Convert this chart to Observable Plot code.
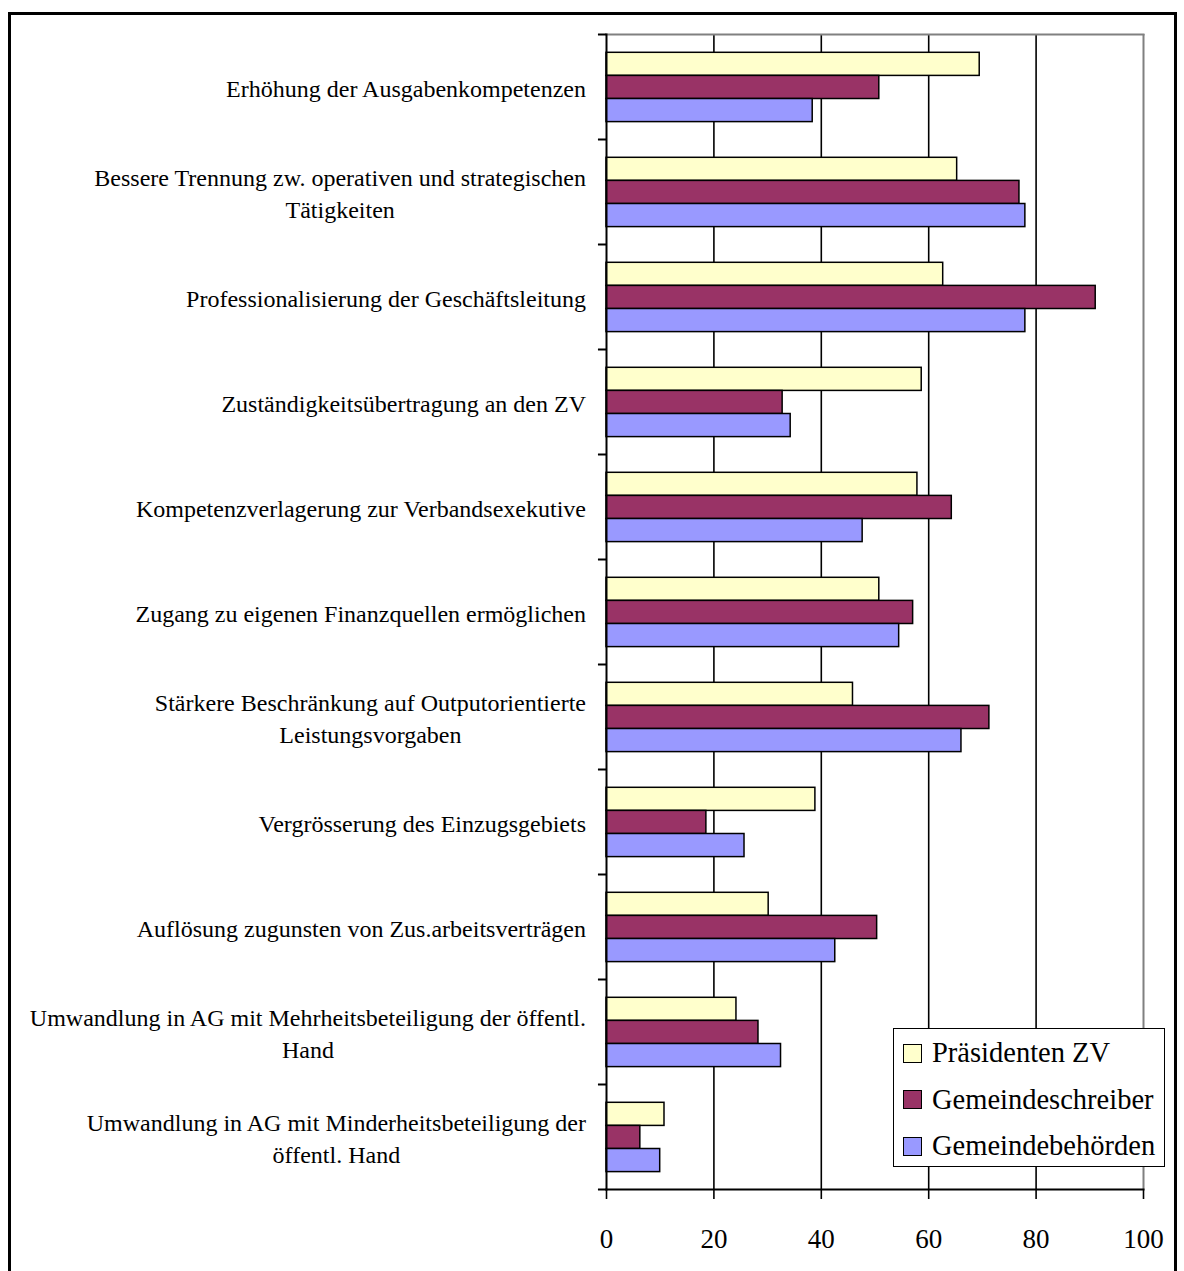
<!DOCTYPE html>
<html>
<head>
<meta charset="utf-8">
<script src="https://cdn.jsdelivr.net/npm/d3@7"></script>
<script src="https://cdn.jsdelivr.net/npm/@observablehq/plot@0.6"></script>
<style>
  html, body { margin: 0; padding: 0; background: #fff; overflow: hidden; }
  #wrap { position: relative; width: 1184px; height: 1271px; }
  #border { position: absolute; left: 8px; top: 12px; width: 1169px; height: 1300px; border: 3px solid #000; box-sizing: border-box; }
  #chart { position: absolute; left: 0; top: 0; }
  #legend { position: absolute; left: 893px; top: 1028px; width: 272px; height: 139px; box-sizing: border-box;
            border: 1.5px solid #000; background: #fff; padding: 1px 0 0 9px;
            font-family: "Liberation Serif", "Times New Roman", serif; font-size: 28.5px; color: #000; }
  .row { height: 46.5px; display: flex; align-items: center; }
  .sw { width: 19px; height: 19px; box-sizing: border-box; border: 1.5px solid #000; margin-right: 10px; flex: none; }
</style>
</head>
<body>
<div id="wrap">
  <div id="border"></div>
  <div id="chart"></div>
  <div id="legend"></div>
</div>
<script>
const categories = [
  "Erhöhung der Ausgabenkompetenzen",
  "Bessere Trennung zw. operativen und strategischen\nTätigkeiten",
  "Professionalisierung der Geschäftsleitung",
  "Zuständigkeitsübertragung an den ZV",
  "Kompetenzverlagerung zur Verbandsexekutive",
  "Zugang zu eigenen Finanzquellen ermöglichen",
  "Stärkere Beschränkung auf Outputorientierte\nLeistungsvorgaben",
  "Vergrösserung des Einzugsgebiets",
  "Auflösung zugunsten von Zus.arbeitsverträgen",
  "Umwandlung in AG mit Mehrheitsbeteiligung der öffentl.\nHand",
  "Umwandlung in AG mit Minderheitsbeteiligung der\nöffentl. Hand"
];
const seriesNames = ["Präsidenten ZV", "Gemeindeschreiber", "Gemeindebehörden"];
const praesidenten = [69.5, 65.3, 62.7, 58.7, 57.9, 50.8, 45.9, 38.9, 30.2, 24.2, 10.8];
const gemeindeschreiber = [50.8, 76.9, 91.1, 32.8, 64.3, 57.1, 71.3, 18.6, 50.4, 28.3, 6.3];
const gemeindebehoerden = [38.4, 78.0, 78.0, 34.3, 47.7, 54.5, 66.1, 25.7, 42.6, 32.5, 10.0];
const xTicks = [0, 20, 40, 60, 80, 100];
const colors = ["#FFFFCC", "#993366", "#9999FF"];

const seriesValues = [praesidenten, gemeindeschreiber, gemeindebehoerden];
const rows = seriesValues.map((vals, s) =>
  categories.map((c, i) => ({category: c, series: seriesNames[s], value: vals[i]})));

const W = 1184, H = 1271;
const mTop = 34, mBottom = 82, mLeft = 606, mRight = 41;
const bw = (H - mTop - mBottom) / categories.length;
const g0 = 18.3, bh = 23.1;

const bars = rows.map((data, s) => Plot.barX(data, {
  x: "value", y: "category",
  fill: colors[s], stroke: "#000", strokeWidth: 1.5,
  insetTop: g0 + s * bh,
  insetBottom: bw - g0 - (s + 1) * bh
}));

const chart = Plot.plot({
  width: W, height: H,
  marginTop: mTop, marginBottom: mBottom, marginLeft: mLeft, marginRight: mRight,
  style: {fontFamily: "'Liberation Serif', 'Times New Roman', serif", color: "#000", background: "transparent"},
  x: {domain: [0, 100], label: null},
  y: {domain: categories, padding: 0, round: false, label: null},
  marks: [
    Plot.ruleX(xTicks.filter(d => d > 0 && d < 100), {stroke: "#000", strokeWidth: 1.6}),
    Plot.ruleX([100], {stroke: "#808080", strokeWidth: 2}),
    Plot.frame({anchor: "top", stroke: "#808080", strokeWidth: 2}),
    ...bars,
    Plot.frame({anchor: "left", stroke: "#000", strokeWidth: 2}),
    Plot.frame({anchor: "bottom", stroke: "#000", strokeWidth: 2}),
    Plot.ruleY(categories, {y: d => d, x1: -1.5, x2: 0, dy: -bw / 2, stroke: "#000", strokeWidth: 2}),
    Plot.ruleY(categories.slice(-1), {y: d => d, x1: -1.5, x2: 0, dy: bw / 2, stroke: "#000", strokeWidth: 2}),
    Plot.axisX(xTicks, {anchor: "bottom", tickSize: 10, tickPadding: 29, fontSize: 27, strokeWidth: 1.6, tickFormat: d => String(d), label: null}),
    Plot.axisY({anchor: "left", tickSize: 0, tickPadding: 20.5, fontSize: 24, lineHeight: 1.33, label: null})
  ]
});
document.getElementById("chart").appendChild(chart);

// center multi-line category labels as blocks (right edge aligned)
chart.querySelectorAll('g[aria-label="y-axis tick label"] text').forEach(t => {
  const spans = t.querySelectorAll("tspan");
  if (spans.length < 2) return;
  const Wmax = Math.max(...[...spans].map(s => s.getComputedTextLength()));
  t.setAttribute("text-anchor", "middle");
  spans.forEach(s => s.setAttribute("x", -Wmax / 2));
});

const legend = document.getElementById("legend");
seriesNames.forEach((name, i) => {
  const row = document.createElement("div");
  row.className = "row";
  const sw = document.createElement("div");
  sw.className = "sw";
  sw.style.background = colors[i];
  const label = document.createElement("span");
  label.textContent = name;
  row.appendChild(sw);
  row.appendChild(label);
  legend.appendChild(row);
});
</script>
</body>
</html>
